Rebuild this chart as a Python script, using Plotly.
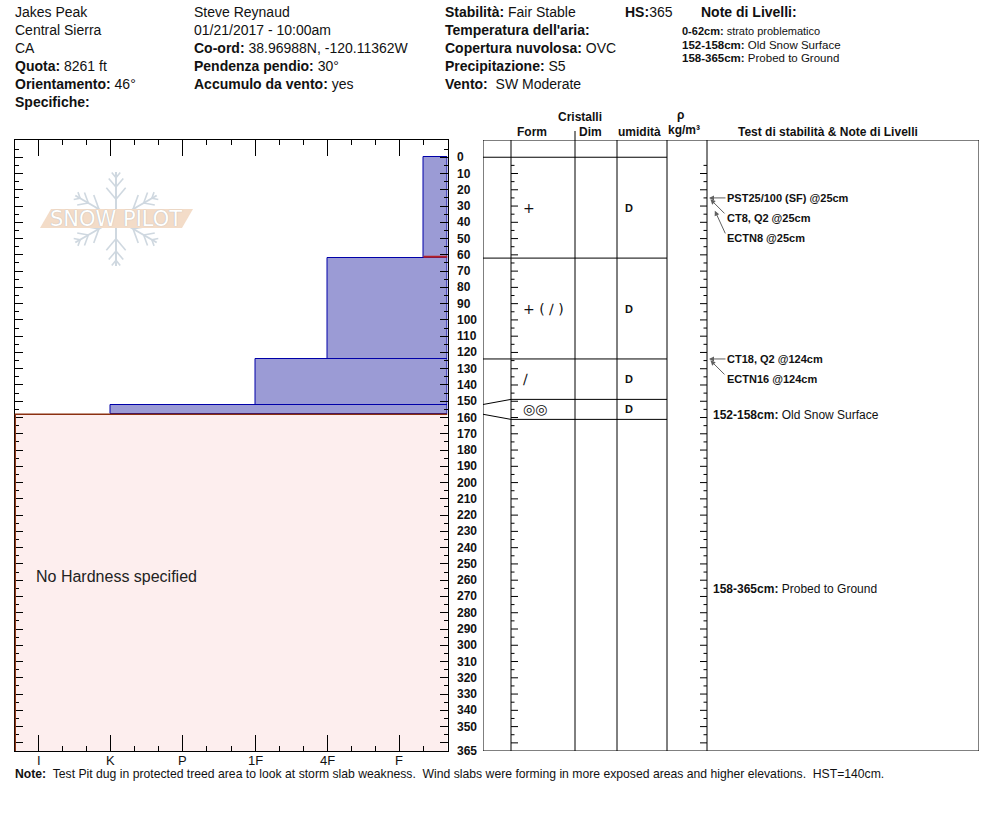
import math
import plotly.graph_objects as go

# ---------------- data ----------------
site_lines = ["Jakes Peak", "Central Sierra", "CA"]
elevation = "8261 ft"
aspect = "46°"
observer = "Steve Reynaud"
date_time = "01/21/2017 - 10:00am"
coords = "38.96988N, -120.11362W"
slope = "30°"
wind_loading = "yes"
stability = "Fair Stable"
sky = "OVC"
precip = "S5"
wind = "SW Moderate"
snow_depth = 365

layer_top = [0, 62, 124, 152]
layer_bottom = [62, 124, 152, 158]
layer_hardness = ["F-", "4F", "1F", "K"]
layer_form = ["+", "+ ( ∕ )", "∕", "◎◎"]
layer_moisture = ["D", "D", "D", "D"]
no_hardness_top = 158
problem_layer = (0, 62)

hardness_labels = ["I", "K", "P", "1F", "4F", "F"]
hardness_pos = [1, 4, 7, 10, 13, 16]
hardness_max = 18

depth_labels = list(range(0, 351, 10)) + [365]

test_names = ["PST25/100 (SF) @25cm", "CT8, Q2 @25cm", "ECTN8 @25cm",
              "CT18, Q2 @124cm", "ECTN16 @124cm"]
test_depths = [25, 25, 25, 124, 124]

note_top = [0, 152, 158]
note_bottom = [62, 158, 365]
note_text = ["strato problematico", "Old Snow Surface", "Probed to Ground"]
note_in_table = [False, True, True]

pit_note = ("Test Pit dug in protected treed area to look at storm slab weakness.  "
            "Wind slabs were forming in more exposed areas and higher elevations.  HST=140cm.")

# ---------------- layout helpers ----------------
W, H = 994, 840
def px(x):
    return x / W
def py(y):
    return 1 - y / H

FONT = "Arial, Liberation Sans, sans-serif"
NARROW = "Liberation Sans Narrow, Arial Narrow, Arial, sans-serif"
Y_TOP_PX, Y_BOT_PX = 140, 751
YR = [snow_depth, -10.6]
KPX = (Y_BOT_PX - Y_TOP_PX) / (YR[0] - YR[1])   # px per cm

def hard_val(h):
    base = h.rstrip("+-")
    v = dict(zip(hardness_labels, hardness_pos))[base]
    if h.endswith("+"):
        v -= 1
    elif h.endswith("-"):
        v += 1
    return v

fig = go.Figure()

# hardness bars
hv = [hard_val(h) for h in layer_hardness]
fig.add_trace(go.Bar(
    orientation="h",
    y=[(t + b) / 2 for t, b in zip(layer_top, layer_bottom)],
    width=[b - t for t, b in zip(layer_top, layer_bottom)],
    base=hv,
    x=[hardness_max - v for v in hv],
    marker=dict(color="#9b9bd5", line=dict(color="#0000a8", width=1)),
    hoverinfo="skip", xaxis="x", yaxis="y",
))
# invisible trace for the table axes
fig.add_trace(go.Scatter(x=[490], y=[0], mode="markers", marker=dict(opacity=0),
                         xaxis="x2", yaxis="y2", hoverinfo="skip"))

shapes = []
annotations = []

# no hardness region
shapes.append(dict(type="rect", xref="x", yref="y", x0=0, x1=hardness_max,
                   y0=no_hardness_top, y1=snow_depth, fillcolor="#fdeeee",
                   line=dict(width=0), layer="below"))
shapes.append(dict(type="line", xref="x", yref="y", x0=0, x1=hardness_max,
                   y0=no_hardness_top, y1=no_hardness_top,
                   line=dict(color="#8b3010", width=1.5)))
shapes.append(dict(type="line", xref="x", yref="y", x0=0.03, x1=0.03,
                   y0=no_hardness_top, y1=snow_depth,
                   line=dict(color="#8b3010", width=1.5)))
annotations.append(dict(xref="x", yref="y", x=0.8, y=(no_hardness_top + snow_depth) / 2,
                        yshift=6, text="No Hardness specified", showarrow=False,
                        xanchor="left", font=dict(family=FONT, size=16, color="#222")))
# problem layer marker
pi = layer_bottom.index(problem_layer[1])
shapes.append(dict(type="line", xref="x", yref="y", x0=hv[pi], x1=hardness_max,
                   y0=problem_layer[1] - 0.8, y1=problem_layer[1] - 0.8,
                   line=dict(color="#b52025", width=2)))

# hardness labels under the axis
for lab, pos in zip(hardness_labels, hardness_pos):
    annotations.append(dict(xref="x", yref="paper", x=pos, y=py(760), text=lab,
                            showarrow=False, xanchor="center", yanchor="middle",
                            font=dict(family=NARROW, size=13, color="#111")))

# depth labels
for d in depth_labels:
    annotations.append(dict(xref="paper", yref="y", x=px(455), y=d, text=str(d),
                            showarrow=False, xanchor="left",
                            font=dict(family=FONT, size=12, color="#111", weight="bold")))

# ---------------- table ----------------
COLS = [483, 511, 575, 617, 667, 707, 979]
shapes.append(dict(type="rect", xref="x2", yref="y2", x0=COLS[0], x1=COLS[-1],
                   y0=YR[1], y1=YR[0], line=dict(color="black", width=1)))
for c in COLS[1:-1]:
    shapes.append(dict(type="line", xref="x2", yref="y2", x0=c, x1=c,
                       y0=YR[1], y1=YR[0], line=dict(color="black", width=1)))
shapes.append(dict(type="line", xref="x2", yref="paper", x0=COLS[2], x1=COLS[2],
                   y0=py(131), y1=py(140), line=dict(color="black", width=1)))

# depth ticks on table columns
d = 5
while d < snow_depth:
    L = 7 if d % 10 == 0 else 3.5
    shapes.append(dict(type="line", xref="x2", yref="y2", x0=COLS[1], x1=COLS[1] + L,
                       y0=d, y1=d, line=dict(color="black", width=1)))
    shapes.append(dict(type="line", xref="x2", yref="y2", x0=COLS[5] - L, x1=COLS[5],
                       y0=d, y1=d, line=dict(color="black", width=1)))
    d += 5

# layer boundaries with expansion for thin layers
bounds = layer_top + [layer_bottom[-1]]
disp = list(bounds)
min_t = 20 / KPX
for i in range(len(layer_top)):
    if layer_bottom[i] - layer_top[i] < min_t:
        c = (layer_top[i] + layer_bottom[i]) / 2
        disp[i] = c - min_t / 2
        disp[i + 1] = c + min_t / 2
for i, b in enumerate(bounds):
    if i == 0:
        shapes.append(dict(type="line", xref="x2", yref="y2", x0=COLS[0], x1=COLS[4],
                           y0=b, y1=b, line=dict(color="black", width=1)))
    else:
        shapes.append(dict(type="line", xref="x2", yref="y2", x0=COLS[0], x1=COLS[1],
                           y0=b, y1=disp[i], line=dict(color="black", width=1)))
        shapes.append(dict(type="line", xref="x2", yref="y2", x0=COLS[1], x1=COLS[4],
                           y0=disp[i], y1=disp[i], line=dict(color="black", width=1)))

for i in range(len(layer_top)):
    cy = (disp[i] + disp[i + 1]) / 2
    annotations.append(dict(xref="x2", yref="y2", x=521, y=cy, text=layer_form[i],
                            showarrow=False, xanchor="left",
                            font=dict(family="DejaVu Sans, Arial", size=14, color="#111")))
    annotations.append(dict(xref="x2", yref="y2", x=623, y=cy, text=layer_moisture[i],
                            showarrow=False, xanchor="left",
                            font=dict(family=FONT, size=11, color="#111", weight="bold")))

# stability tests
prev = None
j = 0
for name, dep in zip(test_names, test_depths):
    j = j + 1 if dep == prev else 0
    prev = dep
    annotations.append(dict(xref="x2", yref="y2", x=725, y=dep, yshift=-20 * j,
                            text=name, showarrow=False, xanchor="left",
                            font=dict(family=FONT, size=11, color="#111", weight="bold")))
    if j == 0:
        ax, ay, so = 18, 0, 0
    else:
        ax, ay, so = 17, 20 * j - 3, (2 if j == 1 else 14)
    annotations.append(dict(xref="x2", yref="y2", x=709, y=dep, ax=ax, ay=ay,
                            text="", showarrow=True, arrowhead=2, arrowsize=1,
                            arrowwidth=1, arrowcolor="#606060", standoff=so))

# layer notes in table
for t, b, txt, show in zip(note_top, note_bottom, note_text, note_in_table):
    if show:
        annotations.append(dict(xref="x2", yref="y2", x=711, y=(t + b) / 2, yshift=-6,
                                text=f"<b>{t}-{b}cm:</b> {txt}", showarrow=False,
                                xanchor="left", font=dict(family=FONT, size=12, color="#111")))

# table headers
hdr = dict(family=FONT, size=12, color="#111", weight="bold")
for txt, x, y in [("Cristalli", 580, 117), ("Form", 532, 132), ("Dim", 590, 132),
                  ("umidità", 639, 132), ("ρ", 680, 115), ("kg/m³", 684, 130),
                  ("Test di stabilità & Note di Livelli", 828, 132)]:
    annotations.append(dict(xref="paper", yref="paper", x=px(x), y=py(y), text=txt,
                            showarrow=False, xanchor="center", yanchor="middle", font=hdr))

# ---------------- header ----------------
F14 = dict(family=FONT, size=14, color="#111")
col1 = site_lines + [f"<b>Quota:</b> {elevation}", f"<b>Orientamento:</b> {aspect}",
                     "<b>Specifiche:</b>"]
col2 = [observer, date_time, f"<b>Co-ord:</b> {coords}", f"<b>Pendenza pendio:</b> {slope}",
        f"<b>Accumulo da vento:</b> {wind_loading}"]
col3 = [f"<b>Stabilità:</b> {stability}", "<b>Temperatura dell'aria:</b>",
        f"<b>Copertura nuvolosa:</b> {sky}", f"<b>Precipitazione:</b> {precip}",
        f"<b>Vento:</b>  {wind}"]
for x0, col in [(13, col1), (192, col2), (443, col3)]:
    for k, txt in enumerate(col):
        annotations.append(dict(xref="paper", yref="paper", x=px(x0), y=py(12 + 18 * k),
                                text=txt, showarrow=False, xanchor="left",
                                yanchor="middle", font=F14))
annotations.append(dict(xref="paper", yref="paper", x=px(623), y=py(12),
                        text=f"<b>HS:</b>{snow_depth}", showarrow=False,
                        xanchor="left", yanchor="middle", font=F14))
annotations.append(dict(xref="paper", yref="paper", x=px(699), y=py(12),
                        text="<b>Note di Livelli:</b>", showarrow=False,
                        xanchor="left", yanchor="middle", font=F14))
for k, (t, b, txt) in enumerate(zip(note_top, note_bottom, note_text)):
    annotations.append(dict(xref="paper", yref="paper", x=px(680), y=py(31 + 13.5 * k),
                            text=f"<b>{t}-{b}cm:</b> {txt}", showarrow=False,
                            xanchor="left", yanchor="middle",
                            font=dict(family=FONT, size=11.5 if k else 11, color="#111")))

annotations.append(dict(xref="paper", yref="paper", x=px(13), y=py(774),
                        text=f"<b>Note:</b>  {pit_note}", showarrow=False,
                        xanchor="left", yanchor="middle",
                        font=dict(family=FONT, size=12.2, color="#111")))

# ---------------- logo ----------------
cx, cy, R = 116, 219, 47
flake = "#cfd8e0"
def seg(x0, y0, x1, y1, w=2):
    shapes.append(dict(type="line", xref="paper", yref="paper", x0=px(x0), y0=py(y0),
                       x1=px(x1), y1=py(y1), line=dict(color=flake, width=w), layer="below"))
for a in [90, 30, -30, -90, 150, 210]:
    dx, dy = math.cos(math.radians(a)), -math.sin(math.radians(a))
    seg(cx, cy, cx + R * dx, cy + R * dy)
    for f, bl in [(0.42, 0.32), (0.68, 0.24), (0.88, 0.14)]:
        bx, by = cx + f * R * dx, cy + f * R * dy
        for s in (40, -40):
            b = math.radians(a + s)
            seg(bx, by, bx + bl * R * math.cos(b), by - bl * R * math.sin(b), 1.6)
band = [(51, 209), (193, 209), (182, 228), (40, 228)]
path = "M " + " L ".join(f"{px(x):.5f},{py(y):.5f}" for x, y in band) + " Z"
shapes.append(dict(type="path", xref="paper", yref="paper", path=path,
                   fillcolor="#f3dcc8", line=dict(width=0), layer="below"))
annotations.append(dict(xref="paper", yref="paper", x=px(116), y=py(219), text="SNOW PILOT",
                        showarrow=False, xanchor="center", yanchor="middle",
                        font=dict(family="DejaVu Sans", size=21, color="white",
                                  shadow="0px 0px 1px #a0a8b0")))

# ---------------- axes ----------------
minor_h = [v for v in range(2, hardness_max) if v not in hardness_pos]
fig.update_layout(
    width=W, height=H, margin=dict(l=0, r=0, t=0, b=0),
    paper_bgcolor="white", plot_bgcolor="rgba(0,0,0,0)", showlegend=False,
    bargap=0,
    xaxis=dict(domain=[px(14.5), px(447.5)], range=[0, hardness_max], anchor="y",
               tickmode="array", tickvals=hardness_pos, ticktext=hardness_labels,
               ticks="inside", ticklen=16, tickcolor="black", mirror="ticks",
               showline=True, linecolor="black", linewidth=1, showgrid=False,
               zeroline=False, showticklabels=False,
               minor=dict(tickmode="array", tickvals=minor_h, ticks="inside",
                          ticklen=5, tickcolor="black", showgrid=False)),
    yaxis=dict(domain=[py(Y_BOT_PX), py(Y_TOP_PX)], range=YR, anchor="x",
               tickmode="linear", tick0=0, dtick=10, ticks="inside", ticklen=8,
               tickcolor="black", mirror="ticks", showline=True, linecolor="black",
               linewidth=1, showgrid=False, zeroline=False, showticklabels=False,
               minor=dict(tickmode="linear", tick0=5, dtick=10, ticks="inside",
                          ticklen=4, tickcolor="black", showgrid=False)),
    xaxis2=dict(domain=[px(483), px(979)], range=[483, 979], anchor="y2", visible=False),
    yaxis2=dict(domain=[py(Y_BOT_PX), py(Y_TOP_PX)], range=YR, anchor="x2", visible=False),
    shapes=shapes, annotations=annotations,
)

fig.write_html("out.html", config={"displayModeBar": False},
               post_script="document.body.style.margin='0';")
